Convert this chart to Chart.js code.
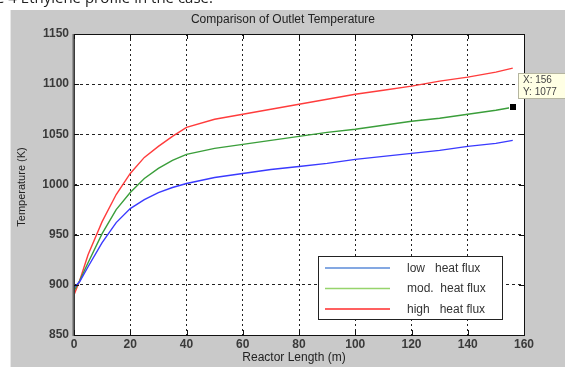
<!DOCTYPE html>
<html>
<head>
<meta charset="utf-8">
<script src="https://cdn.jsdelivr.net/npm/chart.js@4"></script>
<style>
    html, body { margin: 0; padding: 0; background: #fff; overflow: hidden; }
    #wrap { position: relative; width: 565px; height: 367px; }
    #caption { position: absolute; left: -4px; top: -13px; font: 15px "Open Sans", sans-serif; color: #222; white-space: nowrap; z-index: 2; }
    canvas { position: absolute; left: 0; top: 0; }
</style>
</head>
<body>
<div id="wrap">
    <div id="caption">e 4 Ethylene profile in the case.</div>
    <canvas id="tempChart" width="565" height="367"></canvas>
</div>
<script>
// Reactor length (m)
const lengths = [0, 2, 5, 10, 15, 20, 25, 30, 35, 40, 50, 60, 70, 80, 90, 100, 110, 120, 130, 140, 150, 156];
// Outlet temperature (K)
const lowFlux  = [897, 903, 918, 942, 962, 976, 985, 992, 997, 1001, 1007, 1011, 1015, 1018, 1021, 1025, 1028, 1031, 1034, 1038, 1041, 1044];
const modFlux  = [894, 904, 922, 951, 975, 992, 1006, 1016, 1024, 1030, 1036, 1040, 1044, 1048, 1052, 1055, 1059, 1063, 1066, 1070, 1074, 1077];
const highFlux = [890, 904, 930, 963, 990, 1011, 1027, 1038, 1048, 1057, 1065, 1070, 1075, 1080, 1085, 1090, 1094, 1098, 1103, 1107, 1112, 1116];
const seriesLabels = ['low   heat flux', 'mod.  heat flux', 'high   heat flux'];
const xTicks = [0, 20, 40, 60, 80, 100, 120, 140, 160];
const yTicks = [850, 900, 950, 1000, 1050, 1100, 1150];
const datatip = { x: 156, y: 1077 };

function toPoints(ys) {
    return lengths.map((x, i) => ({ x: x, y: ys[i] }));
}

const legendColors = ['#5b8bd8', '#96d46c', '#ff2b2b'];

// Draws the MATLAB-style figure furniture around the plot
const figurePlugin = {
    id: 'figure',
    beforeDraw(chart) {
        const c = chart.ctx;
        const a = chart.chartArea;
        c.save();
        c.fillStyle = '#ffffff';
        c.fillRect(0, 0, chart.width, chart.height);
        c.fillStyle = '#c9c9c9';
        c.fillRect(10, 10, chart.width - 10, chart.height - 10);
        c.fillStyle = '#e8e8e8';
        c.fillRect(10, 10, 1, chart.height - 10);
        c.fillStyle = '#ffffff';
        c.fillRect(a.left, a.top, a.right - a.left, a.bottom - a.top);
        c.restore();
    },
    afterDraw(chart) {
        const c = chart.ctx;
        const a = chart.chartArea;
        const xs = chart.scales.x;
        const ys = chart.scales.y;
        c.save();

        // axes box
        c.strokeStyle = '#111';
        c.lineWidth = 1;
        c.setLineDash([]);
        c.strokeRect(Math.round(a.left) + 0.5, Math.round(a.top) + 0.5, Math.round(a.right - a.left), Math.round(a.bottom - a.top));
        c.strokeStyle = '#666';
        c.lineWidth = 2;
        c.beginPath();
        c.moveTo(Math.round(a.left) - 0.5, a.top);
        c.lineTo(Math.round(a.left) - 0.5, a.bottom + 1);
        c.stroke();

        // inward tick marks
        c.strokeStyle = '#111';
        c.lineWidth = 1;
        c.beginPath();
        xTicks.forEach(t => {
            const px = Math.round(xs.getPixelForValue(t)) + 0.5;
            c.moveTo(px, a.bottom); c.lineTo(px, a.bottom - 5);
            c.moveTo(px, a.top); c.lineTo(px, a.top + 5);
        });
        yTicks.forEach(t => {
            const py = Math.round(ys.getPixelForValue(t)) + 0.5;
            c.moveTo(a.left, py); c.lineTo(a.left + 5, py);
            c.moveTo(a.right, py); c.lineTo(a.right - 5, py);
        });
        c.stroke();

        // titles
        c.fillStyle = '#222';
        c.font = '12px "Liberation Sans", Arial, sans-serif';
        c.textAlign = 'center';
        c.textBaseline = 'middle';
        c.fillText('Comparison of Outlet Temperature', 283, 20);
        c.font = '12px "Liberation Sans", Arial, sans-serif';
        c.fillText('Reactor Length (m)', 294, 358);
        c.save();
        c.translate(22, 187);
        c.rotate(-Math.PI / 2);
        c.font = '11px "Liberation Sans", Arial, sans-serif';
        c.fillText('Temperature (K)', 0, 0);
        c.restore();

        // legend
        const lx = 318, ly = 256, lw = 184, lh = 63;
        c.fillStyle = '#fff';
        c.fillRect(lx, ly, lw, lh);
        c.strokeStyle = '#222';
        c.strokeRect(lx + 0.5, ly + 0.5, lw, lh);
        c.textAlign = 'left';
        c.font = '12px "Liberation Sans", Arial, sans-serif';
        chart.data.datasets.forEach((ds, i) => {
            const ry = ly + 12 + i * 20.5;
            c.strokeStyle = legendColors[i];
            c.lineWidth = 1.6;
            c.beginPath();
            c.moveTo(325, ry);
            c.lineTo(390, ry);
            c.stroke();
            c.fillStyle = '#333';
            c.fillText(ds.label, 407, ry + 0.5);
        });

        // data tip
        const mx = xs.getPixelForValue(datatip.x);
        const my = ys.getPixelForValue(datatip.y);
        c.fillStyle = '#000';
        c.fillRect(Math.round(mx) - 4, Math.round(my) - 4, 8, 8);
        c.strokeStyle = '#fff';
        c.lineWidth = 1;
        c.strokeRect(Math.round(mx) - 3.5, Math.round(my) - 3.5, 7, 7);
        c.fillStyle = '#ffffe4';
        c.fillRect(518, 73, 47, 26);
        c.strokeStyle = '#b5b5a0';
        c.strokeRect(518.5, 73.5, 47, 25);
        c.fillStyle = '#444';
        c.font = '10px "Liberation Sans", Arial, sans-serif';
        c.fillText('X: ' + datatip.x, 523, 80);
        c.fillText('Y: ' + datatip.y, 523, 92);

        c.restore();
    }
};

const tickFont = { family: '"Liberation Sans", Arial, sans-serif', size: 12, weight: 'bold' };

new Chart(document.getElementById('tempChart').getContext('2d'), {
    type: 'line',
    data: {
        datasets: [
            { label: seriesLabels[0], data: toPoints(lowFlux),  borderColor: '#3a3aff', borderWidth: 1.4, pointRadius: 0, tension: 0 },
            { label: seriesLabels[1], data: toPoints(modFlux),  borderColor: '#3a9e3a', borderWidth: 1.4, pointRadius: 0, tension: 0 },
            { label: seriesLabels[2], data: toPoints(highFlux), borderColor: '#ff3c3c', borderWidth: 1.4, pointRadius: 0, tension: 0 }
        ]
    },
    options: {
        responsive: false,
        animation: false,
        layout: { padding: { top: 34, right: 41, bottom: 0, left: 0 } },
        plugins: {
            legend: { display: false },
            tooltip: { enabled: false },
            title: { display: false }
        },
        scales: {
            x: {
                type: 'linear',
                min: 0,
                max: 160,
                afterBuildTicks: s => { s.ticks = xTicks.map(v => ({ value: v })); },
                afterFit: s => { s.height = 32; },
                ticks: { color: '#3a3a3a', font: tickFont, padding: 2, maxRotation: 0, callback: v => String(v) },
                grid: { color: '#222', lineWidth: 1, drawTicks: false },
                border: { display: false, dash: [2, 3] }
            },
            y: {
                type: 'linear',
                min: 850,
                max: 1150,
                afterBuildTicks: s => { s.ticks = yTicks.map(v => ({ value: v })); },
                afterFit: s => { s.width = 74; },
                ticks: { color: '#3a3a3a', font: tickFont, padding: 5, callback: v => String(v) },
                grid: { color: '#222', lineWidth: 1, drawTicks: false },
                border: { display: false, dash: [3, 3] }
            }
        }
    },
    plugins: [figurePlugin]
});
</script>
</body>
</html>
